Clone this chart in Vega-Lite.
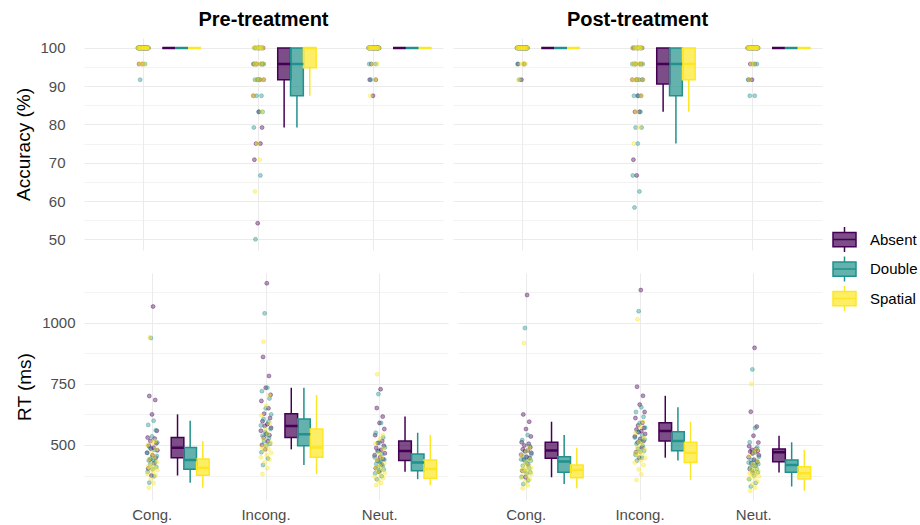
{
"$schema":"https://vega.github.io/schema/vega-lite/v6.json",
"background":"white",
"padding":{"left":14,"top":10,"right":5,"bottom":3},
"config":{
 "view":{"stroke":null},
 "font":"Liberation Sans",
 "range":{"category":["#440154","#21918c","#fde725"]},
 "axis":{"domain":false,"ticks":false,"tickSize":0,"gridColor":"#ebebeb","labelColor":"#4d4d4d","labelFontSize":15,"titleFontSize":19,"titleFontWeight":"normal","titleColor":"#000000","labelOverlap":false},
 "title":{"fontSize":20,"fontWeight":"bold","color":"#000000","offset":8,"anchor":"middle","frame":"group"},
 "legend":{"labelFontSize":15,"labelColor":"#000000","symbolType":"M-0.92,-0.57H0.92V0.57H-0.92Z M-0.92,0H0.92 M0,-0.57V-1 M0,0.57V1","symbolSize":625,"symbolStrokeWidth":1.5,"rowPadding":-1.5,"labelOffset":12}
},
"datasets":{
"obs":[
{"phase":"Pre","cond":"Cong","group":"Absent","id":1,"acc":100,"rt":468},{"phase":"Pre","cond":"Cong","group":"Absent","id":2,"acc":100,"rt":530},{"phase":"Pre","cond":"Cong","group":"Absent","id":3,"acc":95.8,"rt":404},{"phase":"Pre","cond":"Cong","group":"Absent","id":4,"acc":100,"rt":497},{"phase":"Pre","cond":"Cong","group":"Absent","id":5,"acc":100,"rt":700},{"phase":"Pre","cond":"Cong","group":"Absent","id":6,"acc":100,"rt":441},{"phase":"Pre","cond":"Cong","group":"Absent","id":7,"acc":100,"rt":516},{"phase":"Pre","cond":"Cong","group":"Absent","id":8,"acc":100,"rt":485},{"phase":"Pre","cond":"Cong","group":"Absent","id":9,"acc":95.8,"rt":375},{"phase":"Pre","cond":"Cong","group":"Absent","id":10,"acc":100,"rt":625},{"phase":"Pre","cond":"Cong","group":"Absent","id":11,"acc":100,"rt":458},{"phase":"Pre","cond":"Cong","group":"Absent","id":12,"acc":100,"rt":1066},{"phase":"Pre","cond":"Cong","group":"Absent","id":13,"acc":100,"rt":489},{"phase":"Pre","cond":"Cong","group":"Absent","id":14,"acc":100,"rt":425},{"phase":"Pre","cond":"Cong","group":"Absent","id":15,"acc":100,"rt":526},{"phase":"Pre","cond":"Cong","group":"Absent","id":16,"acc":100,"rt":684},{"phase":"Pre","cond":"Cong","group":"Absent","id":17,"acc":100,"rt":448},{"phase":"Pre","cond":"Cong","group":"Absent","id":18,"acc":100,"rt":507},{"phase":"Pre","cond":"Cong","group":"Absent","id":19,"acc":100,"rt":558},{"phase":"Pre","cond":"Cong","group":"Absent","id":20,"acc":100,"rt":478},
{"phase":"Pre","cond":"Cong","group":"Double","id":1,"acc":100,"rt":468},{"phase":"Pre","cond":"Cong","group":"Double","id":2,"acc":100,"rt":390},{"phase":"Pre","cond":"Cong","group":"Double","id":3,"acc":100,"rt":582},{"phase":"Pre","cond":"Cong","group":"Double","id":4,"acc":100,"rt":436},{"phase":"Pre","cond":"Cong","group":"Double","id":5,"acc":91.7,"rt":346},{"phase":"Pre","cond":"Cong","group":"Double","id":6,"acc":100,"rt":490},{"phase":"Pre","cond":"Cong","group":"Double","id":7,"acc":100,"rt":420},{"phase":"Pre","cond":"Cong","group":"Double","id":8,"acc":100,"rt":937},{"phase":"Pre","cond":"Cong","group":"Double","id":9,"acc":100,"rt":445},{"phase":"Pre","cond":"Cong","group":"Double","id":10,"acc":100,"rt":535},{"phase":"Pre","cond":"Cong","group":"Double","id":11,"acc":100,"rt":401},{"phase":"Pre","cond":"Cong","group":"Double","id":12,"acc":100,"rt":439},{"phase":"Pre","cond":"Cong","group":"Double","id":13,"acc":100,"rt":599},{"phase":"Pre","cond":"Cong","group":"Double","id":14,"acc":95.8,"rt":372},{"phase":"Pre","cond":"Cong","group":"Double","id":15,"acc":100,"rt":480},{"phase":"Pre","cond":"Cong","group":"Double","id":16,"acc":100,"rt":430},{"phase":"Pre","cond":"Cong","group":"Double","id":17,"acc":100,"rt":560},{"phase":"Pre","cond":"Cong","group":"Double","id":18,"acc":100,"rt":410},{"phase":"Pre","cond":"Cong","group":"Double","id":19,"acc":100,"rt":455},{"phase":"Pre","cond":"Cong","group":"Double","id":20,"acc":100,"rt":510},
{"phase":"Pre","cond":"Cong","group":"Spatial","id":1,"acc":100,"rt":382},{"phase":"Pre","cond":"Cong","group":"Spatial","id":2,"acc":100,"rt":500},{"phase":"Pre","cond":"Cong","group":"Spatial","id":3,"acc":100,"rt":412},{"phase":"Pre","cond":"Cong","group":"Spatial","id":4,"acc":95.8,"rt":325},{"phase":"Pre","cond":"Cong","group":"Spatial","id":5,"acc":100,"rt":443},{"phase":"Pre","cond":"Cong","group":"Spatial","id":6,"acc":100,"rt":940},{"phase":"Pre","cond":"Cong","group":"Spatial","id":7,"acc":100,"rt":403},{"phase":"Pre","cond":"Cong","group":"Spatial","id":8,"acc":95.8,"rt":362},{"phase":"Pre","cond":"Cong","group":"Spatial","id":9,"acc":100,"rt":468},{"phase":"Pre","cond":"Cong","group":"Spatial","id":10,"acc":100,"rt":420},{"phase":"Pre","cond":"Cong","group":"Spatial","id":11,"acc":100,"rt":510},{"phase":"Pre","cond":"Cong","group":"Spatial","id":12,"acc":100,"rt":390},{"phase":"Pre","cond":"Cong","group":"Spatial","id":13,"acc":95.8,"rt":345},{"phase":"Pre","cond":"Cong","group":"Spatial","id":14,"acc":100,"rt":452},{"phase":"Pre","cond":"Cong","group":"Spatial","id":15,"acc":100,"rt":407},{"phase":"Pre","cond":"Cong","group":"Spatial","id":16,"acc":100,"rt":516},{"phase":"Pre","cond":"Cong","group":"Spatial","id":17,"acc":100,"rt":376},{"phase":"Pre","cond":"Cong","group":"Spatial","id":18,"acc":100,"rt":485},{"phase":"Pre","cond":"Cong","group":"Spatial","id":19,"acc":100,"rt":430},{"phase":"Pre","cond":"Cong","group":"Spatial","id":20,"acc":100,"rt":397},
{"phase":"Pre","cond":"Incong","group":"Absent","id":1,"acc":87.5,"rt":558},{"phase":"Pre","cond":"Incong","group":"Absent","id":2,"acc":95.8,"rt":680},{"phase":"Pre","cond":"Incong","group":"Absent","id":3,"acc":70.8,"rt":500},{"phase":"Pre","cond":"Incong","group":"Absent","id":4,"acc":95.8,"rt":597},{"phase":"Pre","cond":"Incong","group":"Absent","id":5,"acc":100,"rt":860},{"phase":"Pre","cond":"Incong","group":"Absent","id":6,"acc":75,"rt":530},{"phase":"Pre","cond":"Incong","group":"Absent","id":7,"acc":95.8,"rt":628},{"phase":"Pre","cond":"Incong","group":"Absent","id":8,"acc":91.7,"rt":578},{"phase":"Pre","cond":"Incong","group":"Absent","id":9,"acc":54.2,"rt":482},{"phase":"Pre","cond":"Incong","group":"Absent","id":10,"acc":100,"rt":734},{"phase":"Pre","cond":"Incong","group":"Absent","id":11,"acc":83.3,"rt":545},{"phase":"Pre","cond":"Incong","group":"Absent","id":12,"acc":100,"rt":1161},{"phase":"Pre","cond":"Incong","group":"Absent","id":13,"acc":91.7,"rt":585},{"phase":"Pre","cond":"Incong","group":"Absent","id":14,"acc":75,"rt":515},{"phase":"Pre","cond":"Incong","group":"Absent","id":15,"acc":95.8,"rt":650},{"phase":"Pre","cond":"Incong","group":"Absent","id":16,"acc":100,"rt":782},{"phase":"Pre","cond":"Incong","group":"Absent","id":17,"acc":79.2,"rt":540},{"phase":"Pre","cond":"Incong","group":"Absent","id":18,"acc":95.8,"rt":610},{"phase":"Pre","cond":"Incong","group":"Absent","id":19,"acc":100,"rt":705},{"phase":"Pre","cond":"Incong","group":"Absent","id":20,"acc":91.7,"rt":570},
{"phase":"Pre","cond":"Incong","group":"Double","id":1,"acc":95.8,"rt":580},{"phase":"Pre","cond":"Incong","group":"Double","id":2,"acc":79.2,"rt":470},{"phase":"Pre","cond":"Incong","group":"Double","id":3,"acc":100,"rt":720},{"phase":"Pre","cond":"Incong","group":"Double","id":4,"acc":91.7,"rt":538},{"phase":"Pre","cond":"Incong","group":"Double","id":5,"acc":50,"rt":418},{"phase":"Pre","cond":"Incong","group":"Double","id":6,"acc":95.8,"rt":606},{"phase":"Pre","cond":"Incong","group":"Double","id":7,"acc":87.5,"rt":515},{"phase":"Pre","cond":"Incong","group":"Double","id":8,"acc":100,"rt":1038},{"phase":"Pre","cond":"Incong","group":"Double","id":9,"acc":91.7,"rt":552},{"phase":"Pre","cond":"Incong","group":"Double","id":10,"acc":100,"rt":650},{"phase":"Pre","cond":"Incong","group":"Double","id":11,"acc":83.3,"rt":497},{"phase":"Pre","cond":"Incong","group":"Double","id":12,"acc":91.7,"rt":544},{"phase":"Pre","cond":"Incong","group":"Double","id":13,"acc":100,"rt":734},{"phase":"Pre","cond":"Incong","group":"Double","id":14,"acc":66.7,"rt":445},{"phase":"Pre","cond":"Incong","group":"Double","id":15,"acc":95.8,"rt":595},{"phase":"Pre","cond":"Incong","group":"Double","id":16,"acc":87.5,"rt":528},{"phase":"Pre","cond":"Incong","group":"Double","id":17,"acc":100,"rt":690},{"phase":"Pre","cond":"Incong","group":"Double","id":18,"acc":83.3,"rt":505},{"phase":"Pre","cond":"Incong","group":"Double","id":19,"acc":95.8,"rt":565},{"phase":"Pre","cond":"Incong","group":"Double","id":20,"acc":95.8,"rt":625},
{"phase":"Pre","cond":"Incong","group":"Spatial","id":1,"acc":87.5,"rt":450},{"phase":"Pre","cond":"Incong","group":"Spatial","id":2,"acc":100,"rt":620},{"phase":"Pre","cond":"Incong","group":"Spatial","id":3,"acc":95.8,"rt":490},{"phase":"Pre","cond":"Incong","group":"Spatial","id":4,"acc":62.5,"rt":381},{"phase":"Pre","cond":"Incong","group":"Spatial","id":5,"acc":95.8,"rt":525},{"phase":"Pre","cond":"Incong","group":"Spatial","id":6,"acc":100,"rt":922},{"phase":"Pre","cond":"Incong","group":"Spatial","id":7,"acc":91.7,"rt":478},{"phase":"Pre","cond":"Incong","group":"Spatial","id":8,"acc":75,"rt":428},{"phase":"Pre","cond":"Incong","group":"Spatial","id":9,"acc":100,"rt":565},{"phase":"Pre","cond":"Incong","group":"Spatial","id":10,"acc":95.8,"rt":497},{"phase":"Pre","cond":"Incong","group":"Spatial","id":11,"acc":100,"rt":660},{"phase":"Pre","cond":"Incong","group":"Spatial","id":12,"acc":91.7,"rt":458},{"phase":"Pre","cond":"Incong","group":"Spatial","id":13,"acc":70.8,"rt":405},{"phase":"Pre","cond":"Incong","group":"Spatial","id":14,"acc":100,"rt":545},{"phase":"Pre","cond":"Incong","group":"Spatial","id":15,"acc":95.8,"rt":485},{"phase":"Pre","cond":"Incong","group":"Spatial","id":16,"acc":100,"rt":704},{"phase":"Pre","cond":"Incong","group":"Spatial","id":17,"acc":83.3,"rt":440},{"phase":"Pre","cond":"Incong","group":"Spatial","id":18,"acc":100,"rt":590},{"phase":"Pre","cond":"Incong","group":"Spatial","id":19,"acc":95.8,"rt":510},{"phase":"Pre","cond":"Incong","group":"Spatial","id":20,"acc":91.7,"rt":468},
{"phase":"Pre","cond":"Neut","group":"Absent","id":1,"acc":100,"rt":458},{"phase":"Pre","cond":"Neut","group":"Absent","id":2,"acc":100,"rt":540},{"phase":"Pre","cond":"Neut","group":"Absent","id":3,"acc":91.7,"rt":405},{"phase":"Pre","cond":"Neut","group":"Absent","id":4,"acc":100,"rt":488},{"phase":"Pre","cond":"Neut","group":"Absent","id":5,"acc":100,"rt":651},{"phase":"Pre","cond":"Neut","group":"Absent","id":6,"acc":95.8,"rt":436},{"phase":"Pre","cond":"Neut","group":"Absent","id":7,"acc":100,"rt":508},{"phase":"Pre","cond":"Neut","group":"Absent","id":8,"acc":100,"rt":475},{"phase":"Pre","cond":"Neut","group":"Absent","id":9,"acc":87.5,"rt":391},{"phase":"Pre","cond":"Neut","group":"Absent","id":10,"acc":100,"rt":590},{"phase":"Pre","cond":"Neut","group":"Absent","id":11,"acc":100,"rt":450},{"phase":"Pre","cond":"Neut","group":"Absent","id":12,"acc":100,"rt":728},{"phase":"Pre","cond":"Neut","group":"Absent","id":13,"acc":100,"rt":480},{"phase":"Pre","cond":"Neut","group":"Absent","id":14,"acc":91.7,"rt":420},{"phase":"Pre","cond":"Neut","group":"Absent","id":15,"acc":100,"rt":516},{"phase":"Pre","cond":"Neut","group":"Absent","id":16,"acc":100,"rt":616},{"phase":"Pre","cond":"Neut","group":"Absent","id":17,"acc":100,"rt":442},{"phase":"Pre","cond":"Neut","group":"Absent","id":18,"acc":100,"rt":497},{"phase":"Pre","cond":"Neut","group":"Absent","id":19,"acc":100,"rt":565},{"phase":"Pre","cond":"Neut","group":"Absent","id":20,"acc":100,"rt":466},
{"phase":"Pre","cond":"Neut","group":"Double","id":1,"acc":100,"rt":450},{"phase":"Pre","cond":"Neut","group":"Double","id":2,"acc":95.8,"rt":384},{"phase":"Pre","cond":"Neut","group":"Double","id":3,"acc":100,"rt":550},{"phase":"Pre","cond":"Neut","group":"Double","id":4,"acc":100,"rt":422},{"phase":"Pre","cond":"Neut","group":"Double","id":5,"acc":91.7,"rt":360},{"phase":"Pre","cond":"Neut","group":"Double","id":6,"acc":100,"rt":475},{"phase":"Pre","cond":"Neut","group":"Double","id":7,"acc":100,"rt":408},{"phase":"Pre","cond":"Neut","group":"Double","id":8,"acc":100,"rt":708},{"phase":"Pre","cond":"Neut","group":"Double","id":9,"acc":100,"rt":433},{"phase":"Pre","cond":"Neut","group":"Double","id":10,"acc":100,"rt":510},{"phase":"Pre","cond":"Neut","group":"Double","id":11,"acc":100,"rt":395},{"phase":"Pre","cond":"Neut","group":"Double","id":12,"acc":100,"rt":428},{"phase":"Pre","cond":"Neut","group":"Double","id":13,"acc":100,"rt":590},{"phase":"Pre","cond":"Neut","group":"Double","id":14,"acc":95.8,"rt":372},{"phase":"Pre","cond":"Neut","group":"Double","id":15,"acc":100,"rt":463},{"phase":"Pre","cond":"Neut","group":"Double","id":16,"acc":100,"rt":415},{"phase":"Pre","cond":"Neut","group":"Double","id":17,"acc":100,"rt":530},{"phase":"Pre","cond":"Neut","group":"Double","id":18,"acc":100,"rt":400},{"phase":"Pre","cond":"Neut","group":"Double","id":19,"acc":100,"rt":440},{"phase":"Pre","cond":"Neut","group":"Double","id":20,"acc":100,"rt":490},
{"phase":"Pre","cond":"Neut","group":"Spatial","id":1,"acc":100,"rt":370},{"phase":"Pre","cond":"Neut","group":"Spatial","id":2,"acc":100,"rt":505},{"phase":"Pre","cond":"Neut","group":"Spatial","id":3,"acc":100,"rt":408},{"phase":"Pre","cond":"Neut","group":"Spatial","id":4,"acc":87.5,"rt":336},{"phase":"Pre","cond":"Neut","group":"Spatial","id":5,"acc":100,"rt":439},{"phase":"Pre","cond":"Neut","group":"Spatial","id":6,"acc":100,"rt":789},{"phase":"Pre","cond":"Neut","group":"Spatial","id":7,"acc":100,"rt":394},{"phase":"Pre","cond":"Neut","group":"Spatial","id":8,"acc":95.8,"rt":355},{"phase":"Pre","cond":"Neut","group":"Spatial","id":9,"acc":100,"rt":465},{"phase":"Pre","cond":"Neut","group":"Spatial","id":10,"acc":100,"rt":415},{"phase":"Pre","cond":"Neut","group":"Spatial","id":11,"acc":100,"rt":525},{"phase":"Pre","cond":"Neut","group":"Spatial","id":12,"acc":100,"rt":378},{"phase":"Pre","cond":"Neut","group":"Spatial","id":13,"acc":91.7,"rt":345},{"phase":"Pre","cond":"Neut","group":"Spatial","id":14,"acc":100,"rt":450},{"phase":"Pre","cond":"Neut","group":"Spatial","id":15,"acc":100,"rt":402},{"phase":"Pre","cond":"Neut","group":"Spatial","id":16,"acc":100,"rt":541},{"phase":"Pre","cond":"Neut","group":"Spatial","id":17,"acc":95.8,"rt":364},{"phase":"Pre","cond":"Neut","group":"Spatial","id":18,"acc":100,"rt":485},{"phase":"Pre","cond":"Neut","group":"Spatial","id":19,"acc":100,"rt":425},{"phase":"Pre","cond":"Neut","group":"Spatial","id":20,"acc":100,"rt":386},
{"phase":"Post","cond":"Cong","group":"Absent","id":1,"acc":100,"rt":460},{"phase":"Post","cond":"Cong","group":"Absent","id":2,"acc":100,"rt":511},{"phase":"Post","cond":"Cong","group":"Absent","id":3,"acc":95.8,"rt":395},{"phase":"Post","cond":"Cong","group":"Absent","id":4,"acc":100,"rt":482},{"phase":"Post","cond":"Cong","group":"Absent","id":5,"acc":100,"rt":625},{"phase":"Post","cond":"Cong","group":"Absent","id":6,"acc":100,"rt":440},{"phase":"Post","cond":"Cong","group":"Absent","id":7,"acc":100,"rt":498},{"phase":"Post","cond":"Cong","group":"Absent","id":8,"acc":100,"rt":474},{"phase":"Post","cond":"Cong","group":"Absent","id":9,"acc":91.7,"rt":368},{"phase":"Post","cond":"Cong","group":"Absent","id":10,"acc":100,"rt":565},{"phase":"Post","cond":"Cong","group":"Absent","id":11,"acc":100,"rt":452},{"phase":"Post","cond":"Cong","group":"Absent","id":12,"acc":100,"rt":1113},{"phase":"Post","cond":"Cong","group":"Absent","id":13,"acc":100,"rt":477},{"phase":"Post","cond":"Cong","group":"Absent","id":14,"acc":95.8,"rt":420},{"phase":"Post","cond":"Cong","group":"Absent","id":15,"acc":100,"rt":505},{"phase":"Post","cond":"Cong","group":"Absent","id":16,"acc":100,"rt":595},{"phase":"Post","cond":"Cong","group":"Absent","id":17,"acc":100,"rt":446},{"phase":"Post","cond":"Cong","group":"Absent","id":18,"acc":100,"rt":490},{"phase":"Post","cond":"Cong","group":"Absent","id":19,"acc":100,"rt":535},{"phase":"Post","cond":"Cong","group":"Absent","id":20,"acc":100,"rt":468},
{"phase":"Post","cond":"Cong","group":"Double","id":1,"acc":100,"rt":441},{"phase":"Post","cond":"Cong","group":"Double","id":2,"acc":95.8,"rt":370},{"phase":"Post","cond":"Cong","group":"Double","id":3,"acc":100,"rt":520},{"phase":"Post","cond":"Cong","group":"Double","id":4,"acc":100,"rt":415},{"phase":"Post","cond":"Cong","group":"Double","id":5,"acc":91.7,"rt":340},{"phase":"Post","cond":"Cong","group":"Double","id":6,"acc":100,"rt":452},{"phase":"Post","cond":"Cong","group":"Double","id":7,"acc":100,"rt":395},{"phase":"Post","cond":"Cong","group":"Double","id":8,"acc":100,"rt":978},{"phase":"Post","cond":"Cong","group":"Double","id":9,"acc":100,"rt":432},{"phase":"Post","cond":"Cong","group":"Double","id":10,"acc":100,"rt":475},{"phase":"Post","cond":"Cong","group":"Double","id":11,"acc":100,"rt":383},{"phase":"Post","cond":"Cong","group":"Double","id":12,"acc":100,"rt":425},{"phase":"Post","cond":"Cong","group":"Double","id":13,"acc":100,"rt":541},{"phase":"Post","cond":"Cong","group":"Double","id":14,"acc":95.8,"rt":355},{"phase":"Post","cond":"Cong","group":"Double","id":15,"acc":100,"rt":446},{"phase":"Post","cond":"Cong","group":"Double","id":16,"acc":100,"rt":405},{"phase":"Post","cond":"Cong","group":"Double","id":17,"acc":100,"rt":495},{"phase":"Post","cond":"Cong","group":"Double","id":18,"acc":100,"rt":388},{"phase":"Post","cond":"Cong","group":"Double","id":19,"acc":100,"rt":436},{"phase":"Post","cond":"Cong","group":"Double","id":20,"acc":100,"rt":462},
{"phase":"Post","cond":"Cong","group":"Spatial","id":1,"acc":100,"rt":366},{"phase":"Post","cond":"Cong","group":"Spatial","id":2,"acc":100,"rt":458},{"phase":"Post","cond":"Cong","group":"Spatial","id":3,"acc":100,"rt":398},{"phase":"Post","cond":"Cong","group":"Spatial","id":4,"acc":91.7,"rt":323},{"phase":"Post","cond":"Cong","group":"Spatial","id":5,"acc":100,"rt":412},{"phase":"Post","cond":"Cong","group":"Spatial","id":6,"acc":100,"rt":917},{"phase":"Post","cond":"Cong","group":"Spatial","id":7,"acc":100,"rt":388},{"phase":"Post","cond":"Cong","group":"Spatial","id":8,"acc":95.8,"rt":348},{"phase":"Post","cond":"Cong","group":"Spatial","id":9,"acc":100,"rt":428},{"phase":"Post","cond":"Cong","group":"Spatial","id":10,"acc":100,"rt":402},{"phase":"Post","cond":"Cong","group":"Spatial","id":11,"acc":100,"rt":475},{"phase":"Post","cond":"Cong","group":"Spatial","id":12,"acc":100,"rt":372},{"phase":"Post","cond":"Cong","group":"Spatial","id":13,"acc":95.8,"rt":335},{"phase":"Post","cond":"Cong","group":"Spatial","id":14,"acc":100,"rt":418},{"phase":"Post","cond":"Cong","group":"Spatial","id":15,"acc":100,"rt":394},{"phase":"Post","cond":"Cong","group":"Spatial","id":16,"acc":100,"rt":489},{"phase":"Post","cond":"Cong","group":"Spatial","id":17,"acc":95.8,"rt":360},{"phase":"Post","cond":"Cong","group":"Spatial","id":18,"acc":100,"rt":440},{"phase":"Post","cond":"Cong","group":"Spatial","id":19,"acc":100,"rt":407},{"phase":"Post","cond":"Cong","group":"Spatial","id":20,"acc":100,"rt":380},
{"phase":"Post","cond":"Incong","group":"Absent","id":1,"acc":91.7,"rt":535},{"phase":"Post","cond":"Incong","group":"Absent","id":2,"acc":100,"rt":610},{"phase":"Post","cond":"Incong","group":"Absent","id":3,"acc":70.8,"rt":470},{"phase":"Post","cond":"Incong","group":"Absent","id":4,"acc":95.8,"rt":563},{"phase":"Post","cond":"Incong","group":"Absent","id":5,"acc":100,"rt":738},{"phase":"Post","cond":"Incong","group":"Absent","id":6,"acc":83.3,"rt":510},{"phase":"Post","cond":"Incong","group":"Absent","id":7,"acc":95.8,"rt":580},{"phase":"Post","cond":"Incong","group":"Absent","id":8,"acc":91.7,"rt":552},{"phase":"Post","cond":"Incong","group":"Absent","id":9,"acc":66.7,"rt":448},{"phase":"Post","cond":"Incong","group":"Absent","id":10,"acc":100,"rt":665},{"phase":"Post","cond":"Incong","group":"Absent","id":11,"acc":87.5,"rt":525},{"phase":"Post","cond":"Incong","group":"Absent","id":12,"acc":100,"rt":1133},{"phase":"Post","cond":"Incong","group":"Absent","id":13,"acc":91.7,"rt":557},{"phase":"Post","cond":"Incong","group":"Absent","id":14,"acc":83.3,"rt":490},{"phase":"Post","cond":"Incong","group":"Absent","id":15,"acc":95.8,"rt":591},{"phase":"Post","cond":"Incong","group":"Absent","id":16,"acc":100,"rt":701},{"phase":"Post","cond":"Incong","group":"Absent","id":17,"acc":87.5,"rt":516},{"phase":"Post","cond":"Incong","group":"Absent","id":18,"acc":95.8,"rt":570},{"phase":"Post","cond":"Incong","group":"Absent","id":19,"acc":100,"rt":635},{"phase":"Post","cond":"Incong","group":"Absent","id":20,"acc":91.7,"rt":545},
{"phase":"Post","cond":"Incong","group":"Double","id":1,"acc":95.8,"rt":530},{"phase":"Post","cond":"Incong","group":"Double","id":2,"acc":66.7,"rt":460},{"phase":"Post","cond":"Incong","group":"Double","id":3,"acc":100,"rt":635},{"phase":"Post","cond":"Incong","group":"Double","id":4,"acc":87.5,"rt":505},{"phase":"Post","cond":"Incong","group":"Double","id":5,"acc":58.3,"rt":436},{"phase":"Post","cond":"Incong","group":"Double","id":6,"acc":95.8,"rt":554},{"phase":"Post","cond":"Incong","group":"Double","id":7,"acc":79.2,"rt":485},{"phase":"Post","cond":"Incong","group":"Double","id":8,"acc":100,"rt":1047},{"phase":"Post","cond":"Incong","group":"Double","id":9,"acc":91.7,"rt":516},{"phase":"Post","cond":"Incong","group":"Double","id":10,"acc":100,"rt":590},{"phase":"Post","cond":"Incong","group":"Double","id":11,"acc":75,"rt":472},{"phase":"Post","cond":"Incong","group":"Double","id":12,"acc":87.5,"rt":512},{"phase":"Post","cond":"Incong","group":"Double","id":13,"acc":100,"rt":654},{"phase":"Post","cond":"Incong","group":"Double","id":14,"acc":62.5,"rt":448},{"phase":"Post","cond":"Incong","group":"Double","id":15,"acc":95.8,"rt":540},{"phase":"Post","cond":"Incong","group":"Double","id":16,"acc":83.3,"rt":495},{"phase":"Post","cond":"Incong","group":"Double","id":17,"acc":100,"rt":615},{"phase":"Post","cond":"Incong","group":"Double","id":18,"acc":79.2,"rt":476},{"phase":"Post","cond":"Incong","group":"Double","id":19,"acc":91.7,"rt":522},{"phase":"Post","cond":"Incong","group":"Double","id":20,"acc":95.8,"rt":570},
{"phase":"Post","cond":"Incong","group":"Spatial","id":1,"acc":91.7,"rt":428},{"phase":"Post","cond":"Incong","group":"Spatial","id":2,"acc":100,"rt":550},{"phase":"Post","cond":"Incong","group":"Spatial","id":3,"acc":95.8,"rt":468},{"phase":"Post","cond":"Incong","group":"Spatial","id":4,"acc":75,"rt":357},{"phase":"Post","cond":"Incong","group":"Spatial","id":5,"acc":95.8,"rt":492},{"phase":"Post","cond":"Incong","group":"Spatial","id":6,"acc":100,"rt":1014},{"phase":"Post","cond":"Incong","group":"Spatial","id":7,"acc":91.7,"rt":455},{"phase":"Post","cond":"Incong","group":"Spatial","id":8,"acc":83.3,"rt":400},{"phase":"Post","cond":"Incong","group":"Spatial","id":9,"acc":100,"rt":511},{"phase":"Post","cond":"Incong","group":"Spatial","id":10,"acc":95.8,"rt":474},{"phase":"Post","cond":"Incong","group":"Spatial","id":11,"acc":100,"rt":575},{"phase":"Post","cond":"Incong","group":"Spatial","id":12,"acc":91.7,"rt":436},{"phase":"Post","cond":"Incong","group":"Spatial","id":13,"acc":79.2,"rt":380},{"phase":"Post","cond":"Incong","group":"Spatial","id":14,"acc":100,"rt":503},{"phase":"Post","cond":"Incong","group":"Spatial","id":15,"acc":95.8,"rt":463},{"phase":"Post","cond":"Incong","group":"Spatial","id":16,"acc":100,"rt":595},{"phase":"Post","cond":"Incong","group":"Spatial","id":17,"acc":87.5,"rt":418},{"phase":"Post","cond":"Incong","group":"Spatial","id":18,"acc":100,"rt":528},{"phase":"Post","cond":"Incong","group":"Spatial","id":19,"acc":95.8,"rt":482},{"phase":"Post","cond":"Incong","group":"Spatial","id":20,"acc":91.7,"rt":446},
{"phase":"Post","cond":"Neut","group":"Absent","id":1,"acc":100,"rt":450},{"phase":"Post","cond":"Neut","group":"Absent","id":2,"acc":100,"rt":495},{"phase":"Post","cond":"Neut","group":"Absent","id":3,"acc":91.7,"rt":402},{"phase":"Post","cond":"Neut","group":"Absent","id":4,"acc":100,"rt":473},{"phase":"Post","cond":"Neut","group":"Absent","id":5,"acc":100,"rt":636},{"phase":"Post","cond":"Neut","group":"Absent","id":6,"acc":95.8,"rt":425},{"phase":"Post","cond":"Neut","group":"Absent","id":7,"acc":100,"rt":480},{"phase":"Post","cond":"Neut","group":"Absent","id":8,"acc":100,"rt":465},{"phase":"Post","cond":"Neut","group":"Absent","id":9,"acc":91.7,"rt":387},{"phase":"Post","cond":"Neut","group":"Absent","id":10,"acc":100,"rt":538},{"phase":"Post","cond":"Neut","group":"Absent","id":11,"acc":100,"rt":440},{"phase":"Post","cond":"Neut","group":"Absent","id":12,"acc":100,"rt":897},{"phase":"Post","cond":"Neut","group":"Absent","id":13,"acc":100,"rt":470},{"phase":"Post","cond":"Neut","group":"Absent","id":14,"acc":95.8,"rt":415},{"phase":"Post","cond":"Neut","group":"Absent","id":15,"acc":100,"rt":484},{"phase":"Post","cond":"Neut","group":"Absent","id":16,"acc":100,"rt":575},{"phase":"Post","cond":"Neut","group":"Absent","id":17,"acc":100,"rt":431},{"phase":"Post","cond":"Neut","group":"Absent","id":18,"acc":100,"rt":476},{"phase":"Post","cond":"Neut","group":"Absent","id":19,"acc":100,"rt":510},{"phase":"Post","cond":"Neut","group":"Absent","id":20,"acc":100,"rt":458},
{"phase":"Post","cond":"Neut","group":"Double","id":1,"acc":100,"rt":428},{"phase":"Post","cond":"Neut","group":"Double","id":2,"acc":91.7,"rt":360},{"phase":"Post","cond":"Neut","group":"Double","id":3,"acc":100,"rt":511},{"phase":"Post","cond":"Neut","group":"Double","id":4,"acc":100,"rt":408},{"phase":"Post","cond":"Neut","group":"Double","id":5,"acc":87.5,"rt":330},{"phase":"Post","cond":"Neut","group":"Double","id":6,"acc":100,"rt":439},{"phase":"Post","cond":"Neut","group":"Double","id":7,"acc":100,"rt":395},{"phase":"Post","cond":"Neut","group":"Double","id":8,"acc":100,"rt":809},{"phase":"Post","cond":"Neut","group":"Double","id":9,"acc":100,"rt":418},{"phase":"Post","cond":"Neut","group":"Double","id":10,"acc":100,"rt":470},{"phase":"Post","cond":"Neut","group":"Double","id":11,"acc":95.8,"rt":375},{"phase":"Post","cond":"Neut","group":"Double","id":12,"acc":100,"rt":414},{"phase":"Post","cond":"Neut","group":"Double","id":13,"acc":100,"rt":569},{"phase":"Post","cond":"Neut","group":"Double","id":14,"acc":87.5,"rt":345},{"phase":"Post","cond":"Neut","group":"Double","id":15,"acc":100,"rt":434},{"phase":"Post","cond":"Neut","group":"Double","id":16,"acc":100,"rt":402},{"phase":"Post","cond":"Neut","group":"Double","id":17,"acc":100,"rt":490},{"phase":"Post","cond":"Neut","group":"Double","id":18,"acc":95.8,"rt":388},{"phase":"Post","cond":"Neut","group":"Double","id":19,"acc":100,"rt":422},{"phase":"Post","cond":"Neut","group":"Double","id":20,"acc":100,"rt":452},
{"phase":"Post","cond":"Neut","group":"Spatial","id":1,"acc":100,"rt":361},{"phase":"Post","cond":"Neut","group":"Spatial","id":2,"acc":100,"rt":455},{"phase":"Post","cond":"Neut","group":"Spatial","id":3,"acc":100,"rt":384},{"phase":"Post","cond":"Neut","group":"Spatial","id":4,"acc":91.7,"rt":313},{"phase":"Post","cond":"Neut","group":"Spatial","id":5,"acc":100,"rt":402},{"phase":"Post","cond":"Neut","group":"Spatial","id":6,"acc":100,"rt":749},{"phase":"Post","cond":"Neut","group":"Spatial","id":7,"acc":100,"rt":377},{"phase":"Post","cond":"Neut","group":"Spatial","id":8,"acc":95.8,"rt":338},{"phase":"Post","cond":"Neut","group":"Spatial","id":9,"acc":100,"rt":420},{"phase":"Post","cond":"Neut","group":"Spatial","id":10,"acc":100,"rt":388},{"phase":"Post","cond":"Neut","group":"Spatial","id":11,"acc":100,"rt":470},{"phase":"Post","cond":"Neut","group":"Spatial","id":12,"acc":100,"rt":366},{"phase":"Post","cond":"Neut","group":"Spatial","id":13,"acc":95.8,"rt":325},{"phase":"Post","cond":"Neut","group":"Spatial","id":14,"acc":100,"rt":411},{"phase":"Post","cond":"Neut","group":"Spatial","id":15,"acc":100,"rt":381},{"phase":"Post","cond":"Neut","group":"Spatial","id":16,"acc":100,"rt":480},{"phase":"Post","cond":"Neut","group":"Spatial","id":17,"acc":100,"rt":350},{"phase":"Post","cond":"Neut","group":"Spatial","id":18,"acc":100,"rt":435},{"phase":"Post","cond":"Neut","group":"Spatial","id":19,"acc":100,"rt":394},{"phase":"Post","cond":"Neut","group":"Spatial","id":20,"acc":100,"rt":372}
],
"accBox":[
{"phase":"Pre","cond":"Cong","group":"Absent","lower":100,"q1":100,"median":100,"q3":100,"upper":100},
{"phase":"Pre","cond":"Cong","group":"Double","lower":100,"q1":100,"median":100,"q3":100,"upper":100},
{"phase":"Pre","cond":"Cong","group":"Spatial","lower":100,"q1":100,"median":100,"q3":100,"upper":100},
{"phase":"Pre","cond":"Incong","group":"Absent","lower":79.2,"q1":91.7,"median":95.8,"q3":100,"upper":100},
{"phase":"Pre","cond":"Incong","group":"Double","lower":79.2,"q1":87.5,"median":95.8,"q3":100,"upper":100},
{"phase":"Pre","cond":"Incong","group":"Spatial","lower":87.5,"q1":94.8,"median":100,"q3":100,"upper":100},
{"phase":"Pre","cond":"Neut","group":"Absent","lower":100,"q1":100,"median":100,"q3":100,"upper":100},
{"phase":"Pre","cond":"Neut","group":"Double","lower":100,"q1":100,"median":100,"q3":100,"upper":100},
{"phase":"Pre","cond":"Neut","group":"Spatial","lower":100,"q1":100,"median":100,"q3":100,"upper":100},
{"phase":"Post","cond":"Cong","group":"Absent","lower":100,"q1":100,"median":100,"q3":100,"upper":100},
{"phase":"Post","cond":"Cong","group":"Double","lower":100,"q1":100,"median":100,"q3":100,"upper":100},
{"phase":"Post","cond":"Cong","group":"Spatial","lower":100,"q1":100,"median":100,"q3":100,"upper":100},
{"phase":"Post","cond":"Incong","group":"Absent","lower":83.3,"q1":90.6,"median":95.8,"q3":100,"upper":100},
{"phase":"Post","cond":"Incong","group":"Double","lower":75,"q1":87.5,"median":95.8,"q3":100,"upper":100},
{"phase":"Post","cond":"Incong","group":"Spatial","lower":83.3,"q1":91.7,"median":95.8,"q3":100,"upper":100},
{"phase":"Post","cond":"Neut","group":"Absent","lower":100,"q1":100,"median":100,"q3":100,"upper":100},
{"phase":"Post","cond":"Neut","group":"Double","lower":100,"q1":100,"median":100,"q3":100,"upper":100},
{"phase":"Post","cond":"Neut","group":"Spatial","lower":100,"q1":100,"median":100,"q3":100,"upper":100}
],
"rtBox":[
{"phase":"Pre","cond":"Cong","group":"Absent","lower":375,"q1":448,"median":489,"q3":530,"upper":625},
{"phase":"Pre","cond":"Cong","group":"Double","lower":346,"q1":401,"median":439,"q3":490,"upper":599},
{"phase":"Pre","cond":"Cong","group":"Spatial","lower":325,"q1":376,"median":407,"q3":443,"upper":516},
{"phase":"Pre","cond":"Incong","group":"Absent","lower":482,"q1":530,"median":578,"q3":628,"upper":734},
{"phase":"Pre","cond":"Incong","group":"Double","lower":418,"q1":497,"median":544,"q3":606,"upper":734},
{"phase":"Pre","cond":"Incong","group":"Spatial","lower":381,"q1":450,"median":490,"q3":565,"upper":704},
{"phase":"Pre","cond":"Neut","group":"Absent","lower":391,"q1":436,"median":475,"q3":516,"upper":616},
{"phase":"Pre","cond":"Neut","group":"Double","lower":360,"q1":395,"median":428,"q3":463,"upper":550},
{"phase":"Pre","cond":"Neut","group":"Spatial","lower":336,"q1":364,"median":402,"q3":439,"upper":541},
{"phase":"Post","cond":"Cong","group":"Absent","lower":368,"q1":446,"median":477,"q3":511,"upper":595},
{"phase":"Post","cond":"Cong","group":"Double","lower":340,"q1":388,"median":432,"q3":452,"upper":541},
{"phase":"Post","cond":"Cong","group":"Spatial","lower":323,"q1":366,"median":398,"q3":418,"upper":489},
{"phase":"Post","cond":"Incong","group":"Absent","lower":448,"q1":516,"median":557,"q3":591,"upper":701},
{"phase":"Post","cond":"Incong","group":"Double","lower":436,"q1":476,"median":516,"q3":554,"upper":654},
{"phase":"Post","cond":"Incong","group":"Spatial","lower":357,"q1":428,"median":468,"q3":511,"upper":595},
{"phase":"Post","cond":"Neut","group":"Absent","lower":387,"q1":431,"median":470,"q3":484,"upper":538},
{"phase":"Post","cond":"Neut","group":"Double","lower":330,"q1":388,"median":418,"q3":439,"upper":511},
{"phase":"Post","cond":"Neut","group":"Spatial","lower":313,"q1":361,"median":384,"q3":411,"upper":480}
]
},
"columns":1,
"align":"none",
"spacing":23,
"concat":[
{"spacing":10,"hconcat":[
 {"width":359,"height":212,"title":{"text":"Pre-treatment"},
  "encoding":{"x":{"field":"cond","type":"nominal","title":null,"scale":{"domain":["Cong","Incong","Neut"],"paddingInner":0,"paddingOuter":0.0566,"align":0.117},"axis":{"labels":false,"grid":true,"bandPosition":0.5}}},
  "layer":[
   {"data":{"name":"obs"},"transform":[{"filter":"datum.phase === 'Pre'"}],"mark":{"type":"circle","size":16,"fillOpacity":0.4,"strokeOpacity":0.6,"strokeWidth":0.6},
    "encoding":{"xOffset":{"field":"id","type":"quantitative","scale":{"domain":[-95,116],"zero":false,"nice":false}},
     "y":{"field":"acc","type":"quantitative","title":"Accuracy (%)","scale":{"domain":[47.2,102.6],"zero":false,"nice":false},"axis":{"values":[50,55,60,65,70,75,80,85,90,95,100],"tickCount":40,"labelExpr":"datum.value % 10 === 0 ? datum.label : ''","gridWidth":{"condition":{"test":"datum.value % 10 !== 0","value":0.6},"value":1.2},"labelPadding":19,"titlePadding":6}},
     "color":{"field":"group","type":"nominal","legend":{"title":null,"orient":"none","legendX":747,"legendY":188,"encode":{"symbols":{"update":{"fill":{"scale":"color","field":"value"},"fillOpacity":{"value":0.7},"stroke":{"scale":"color","field":"value"},"strokeWidth":{"value":1.5},"opacity":{"value":1}}}}}},
     "stroke":{"field":"group","type":"nominal","legend":null}}},
   {"data":{"name":"accBox"},"transform":[{"filter":"datum.phase === 'Pre'"}],"mark":{"type":"rule","strokeWidth":1.5},
    "encoding":{"xOffset":{"field":"group","type":"nominal","scale":{"domain":["s0","s1","s2","s3","s4","s5","Absent","Double","Spatial"],"paddingInner":0,"paddingOuter":-0.75}},
     "y":{"field":"lower","type":"quantitative","title":"Accuracy (%)","scale":{"domain":[47.2,102.6],"zero":false,"nice":false}},"y2":{"field":"q1"},"color":{"field":"group","type":"nominal"}}},
   {"data":{"name":"accBox"},"transform":[{"filter":"datum.phase === 'Pre'"}],"mark":{"type":"rule","strokeWidth":1.5},
    "encoding":{"xOffset":{"field":"group","type":"nominal","scale":{"domain":["s0","s1","s2","s3","s4","s5","Absent","Double","Spatial"],"paddingInner":0,"paddingOuter":-0.75}},
     "y":{"field":"q3","type":"quantitative","title":"Accuracy (%)","scale":{"domain":[47.2,102.6],"zero":false,"nice":false}},"y2":{"field":"upper"},"color":{"field":"group","type":"nominal"}}},
   {"data":{"name":"accBox"},"transform":[{"filter":"datum.phase === 'Pre'"}],"mark":{"type":"bar","fillOpacity":0.7},
    "encoding":{"xOffset":{"field":"group","type":"nominal","scale":{"domain":["s0","s1","s2","s3","s4","s5","Absent","Double","Spatial"],"paddingInner":0,"paddingOuter":-0.75}},
     "y":{"field":"q1","type":"quantitative","title":"Accuracy (%)","scale":{"domain":[47.2,102.6],"zero":false,"nice":false}},"y2":{"field":"q3"},"color":{"field":"group","type":"nominal"}}},
   {"data":{"name":"accBox"},"transform":[{"filter":"datum.phase === 'Pre'"}],"mark":{"type":"bar","filled":false,"strokeWidth":1.5},
    "encoding":{"xOffset":{"field":"group","type":"nominal","scale":{"domain":["s0","s1","s2","s3","s4","s5","Absent","Double","Spatial"],"paddingInner":0,"paddingOuter":-0.75}},
     "y":{"field":"q1","type":"quantitative","title":"Accuracy (%)","scale":{"domain":[47.2,102.6],"zero":false,"nice":false}},"y2":{"field":"q3"},"color":{"field":"group","type":"nominal"}}},
   {"data":{"name":"accBox"},"transform":[{"filter":"datum.phase === 'Pre'"}],"mark":{"type":"bar","filled":false,"strokeWidth":2.5},
    "encoding":{"xOffset":{"field":"group","type":"nominal","scale":{"domain":["s0","s1","s2","s3","s4","s5","Absent","Double","Spatial"],"paddingInner":0,"paddingOuter":-0.75}},
     "y":{"field":"median","type":"quantitative","title":"Accuracy (%)","scale":{"domain":[47.2,102.6],"zero":false,"nice":false}},"y2":{"field":"median"},"color":{"field":"group","type":"nominal"}}}
  ],
  "resolve":{"scale":{"xOffset":"independent"}}},
 {"width":369,"height":212,"title":{"text":"Post-treatment"},
  "encoding":{"x":{"field":"cond","type":"nominal","title":null,"scale":{"domain":["Cong","Incong","Neut"],"paddingInner":0,"paddingOuter":0.1},"axis":{"labels":false,"grid":true,"bandPosition":0.5}}},
  "layer":[
   {"data":{"name":"obs"},"transform":[{"filter":"datum.phase === 'Post'"}],"mark":{"type":"circle","size":16,"fillOpacity":0.4,"strokeOpacity":0.6,"strokeWidth":0.6},
    "encoding":{"xOffset":{"field":"id","type":"quantitative","scale":{"domain":[-95,116],"zero":false,"nice":false}},
     "y":{"field":"acc","type":"quantitative","title":"Accuracy (%)","scale":{"domain":[47.2,102.6],"zero":false,"nice":false},"axis":{"values":[50,55,60,65,70,75,80,85,90,95,100],"tickCount":40,"labels":false,"title":null,"gridWidth":{"condition":{"test":"datum.value % 10 !== 0","value":0.6},"value":1.2}}},
     "color":{"field":"group","type":"nominal"},
     "stroke":{"field":"group","type":"nominal","legend":null}}},
   {"data":{"name":"accBox"},"transform":[{"filter":"datum.phase === 'Post'"}],"mark":{"type":"rule","strokeWidth":1.5},
    "encoding":{"xOffset":{"field":"group","type":"nominal","scale":{"domain":["s0","s1","s2","s3","s4","s5","Absent","Double","Spatial"],"paddingInner":0,"paddingOuter":-0.75}},
     "y":{"field":"lower","type":"quantitative","title":"Accuracy (%)","scale":{"domain":[47.2,102.6],"zero":false,"nice":false}},"y2":{"field":"q1"},"color":{"field":"group","type":"nominal"}}},
   {"data":{"name":"accBox"},"transform":[{"filter":"datum.phase === 'Post'"}],"mark":{"type":"rule","strokeWidth":1.5},
    "encoding":{"xOffset":{"field":"group","type":"nominal","scale":{"domain":["s0","s1","s2","s3","s4","s5","Absent","Double","Spatial"],"paddingInner":0,"paddingOuter":-0.75}},
     "y":{"field":"q3","type":"quantitative","title":"Accuracy (%)","scale":{"domain":[47.2,102.6],"zero":false,"nice":false}},"y2":{"field":"upper"},"color":{"field":"group","type":"nominal"}}},
   {"data":{"name":"accBox"},"transform":[{"filter":"datum.phase === 'Post'"}],"mark":{"type":"bar","fillOpacity":0.7},
    "encoding":{"xOffset":{"field":"group","type":"nominal","scale":{"domain":["s0","s1","s2","s3","s4","s5","Absent","Double","Spatial"],"paddingInner":0,"paddingOuter":-0.75}},
     "y":{"field":"q1","type":"quantitative","title":"Accuracy (%)","scale":{"domain":[47.2,102.6],"zero":false,"nice":false}},"y2":{"field":"q3"},"color":{"field":"group","type":"nominal"}}},
   {"data":{"name":"accBox"},"transform":[{"filter":"datum.phase === 'Post'"}],"mark":{"type":"bar","filled":false,"strokeWidth":1.5},
    "encoding":{"xOffset":{"field":"group","type":"nominal","scale":{"domain":["s0","s1","s2","s3","s4","s5","Absent","Double","Spatial"],"paddingInner":0,"paddingOuter":-0.75}},
     "y":{"field":"q1","type":"quantitative","title":"Accuracy (%)","scale":{"domain":[47.2,102.6],"zero":false,"nice":false}},"y2":{"field":"q3"},"color":{"field":"group","type":"nominal"}}},
   {"data":{"name":"accBox"},"transform":[{"filter":"datum.phase === 'Post'"}],"mark":{"type":"bar","filled":false,"strokeWidth":2.5},
    "encoding":{"xOffset":{"field":"group","type":"nominal","scale":{"domain":["s0","s1","s2","s3","s4","s5","Absent","Double","Spatial"],"paddingInner":0,"paddingOuter":-0.75}},
     "y":{"field":"median","type":"quantitative","title":"Accuracy (%)","scale":{"domain":[47.2,102.6],"zero":false,"nice":false}},"y2":{"field":"median"},"color":{"field":"group","type":"nominal"}}}
  ],
  "resolve":{"scale":{"xOffset":"independent"}}}
]},
{"spacing":10,"hconcat":[
 {"width":364,"height":227,
  "encoding":{"x":{"field":"cond","type":"nominal","title":null,"scale":{"domain":["Cong","Incong","Neut"],"paddingInner":0,"paddingOuter":0.1},"axis":{"labelExpr":"datum.label + '.'","labelAngle":0,"labelPadding":7,"grid":true,"bandPosition":0.5}}},
  "layer":[
   {"data":{"name":"obs"},"transform":[{"filter":"datum.phase === 'Pre'"}],"mark":{"type":"circle","size":16,"fillOpacity":0.4,"strokeOpacity":0.6,"strokeWidth":0.6},
    "encoding":{"xOffset":{"field":"id","type":"quantitative","scale":{"domain":[-95,116],"zero":false,"nice":false}},
     "y":{"field":"rt","type":"quantitative","title":"RT (ms)","scale":{"domain":[275,1203],"zero":false,"nice":false},"axis":{"values":[375,500,625,750,875,1000,1125],"tickCount":40,"format":"d","labelExpr":"datum.value % 250 === 0 ? datum.label : ''","gridWidth":{"condition":{"test":"datum.value % 250 !== 0","value":0.6},"value":1.2},"labelPadding":9,"titlePadding":7}},
     "color":{"field":"group","type":"nominal"},
     "stroke":{"field":"group","type":"nominal","legend":null}}},
   {"data":{"name":"rtBox"},"transform":[{"filter":"datum.phase === 'Pre'"}],"mark":{"type":"rule","strokeWidth":1.5},
    "encoding":{"xOffset":{"field":"group","type":"nominal","scale":{"domain":["s0","s1","s2","s3","s4","s5","Absent","Double","Spatial"],"paddingInner":0,"paddingOuter":-0.75}},
     "y":{"field":"lower","type":"quantitative","title":"RT (ms)","scale":{"domain":[275,1203],"zero":false,"nice":false}},"y2":{"field":"q1"},"color":{"field":"group","type":"nominal"}}},
   {"data":{"name":"rtBox"},"transform":[{"filter":"datum.phase === 'Pre'"}],"mark":{"type":"rule","strokeWidth":1.5},
    "encoding":{"xOffset":{"field":"group","type":"nominal","scale":{"domain":["s0","s1","s2","s3","s4","s5","Absent","Double","Spatial"],"paddingInner":0,"paddingOuter":-0.75}},
     "y":{"field":"q3","type":"quantitative","title":"RT (ms)","scale":{"domain":[275,1203],"zero":false,"nice":false}},"y2":{"field":"upper"},"color":{"field":"group","type":"nominal"}}},
   {"data":{"name":"rtBox"},"transform":[{"filter":"datum.phase === 'Pre'"}],"mark":{"type":"bar","fillOpacity":0.7},
    "encoding":{"xOffset":{"field":"group","type":"nominal","scale":{"domain":["s0","s1","s2","s3","s4","s5","Absent","Double","Spatial"],"paddingInner":0,"paddingOuter":-0.75}},
     "y":{"field":"q1","type":"quantitative","title":"RT (ms)","scale":{"domain":[275,1203],"zero":false,"nice":false}},"y2":{"field":"q3"},"color":{"field":"group","type":"nominal"}}},
   {"data":{"name":"rtBox"},"transform":[{"filter":"datum.phase === 'Pre'"}],"mark":{"type":"bar","filled":false,"strokeWidth":1.5},
    "encoding":{"xOffset":{"field":"group","type":"nominal","scale":{"domain":["s0","s1","s2","s3","s4","s5","Absent","Double","Spatial"],"paddingInner":0,"paddingOuter":-0.75}},
     "y":{"field":"q1","type":"quantitative","title":"RT (ms)","scale":{"domain":[275,1203],"zero":false,"nice":false}},"y2":{"field":"q3"},"color":{"field":"group","type":"nominal"}}},
   {"data":{"name":"rtBox"},"transform":[{"filter":"datum.phase === 'Pre'"}],"mark":{"type":"bar","filled":false,"strokeWidth":2.5},
    "encoding":{"xOffset":{"field":"group","type":"nominal","scale":{"domain":["s0","s1","s2","s3","s4","s5","Absent","Double","Spatial"],"paddingInner":0,"paddingOuter":-0.75}},
     "y":{"field":"median","type":"quantitative","title":"RT (ms)","scale":{"domain":[275,1203],"zero":false,"nice":false}},"y2":{"field":"median"},"color":{"field":"group","type":"nominal"}}}
  ],
  "resolve":{"scale":{"xOffset":"independent"}}},
 {"width":364,"height":227,
  "encoding":{"x":{"field":"cond","type":"nominal","title":null,"scale":{"domain":["Cong","Incong","Neut"],"paddingInner":0,"paddingOuter":0.1},"axis":{"labelExpr":"datum.label + '.'","labelAngle":0,"labelPadding":7,"grid":true,"bandPosition":0.5}}},
  "layer":[
   {"data":{"name":"obs"},"transform":[{"filter":"datum.phase === 'Post'"}],"mark":{"type":"circle","size":16,"fillOpacity":0.4,"strokeOpacity":0.6,"strokeWidth":0.6},
    "encoding":{"xOffset":{"field":"id","type":"quantitative","scale":{"domain":[-95,116],"zero":false,"nice":false}},
     "y":{"field":"rt","type":"quantitative","title":"RT (ms)","scale":{"domain":[275,1203],"zero":false,"nice":false},"axis":{"values":[375,500,625,750,875,1000,1125],"tickCount":40,"labels":false,"title":null,"gridWidth":{"condition":{"test":"datum.value % 250 !== 0","value":0.6},"value":1.2}}},
     "color":{"field":"group","type":"nominal"},
     "stroke":{"field":"group","type":"nominal","legend":null}}},
   {"data":{"name":"rtBox"},"transform":[{"filter":"datum.phase === 'Post'"}],"mark":{"type":"rule","strokeWidth":1.5},
    "encoding":{"xOffset":{"field":"group","type":"nominal","scale":{"domain":["s0","s1","s2","s3","s4","s5","Absent","Double","Spatial"],"paddingInner":0,"paddingOuter":-0.75}},
     "y":{"field":"lower","type":"quantitative","title":"RT (ms)","scale":{"domain":[275,1203],"zero":false,"nice":false}},"y2":{"field":"q1"},"color":{"field":"group","type":"nominal"}}},
   {"data":{"name":"rtBox"},"transform":[{"filter":"datum.phase === 'Post'"}],"mark":{"type":"rule","strokeWidth":1.5},
    "encoding":{"xOffset":{"field":"group","type":"nominal","scale":{"domain":["s0","s1","s2","s3","s4","s5","Absent","Double","Spatial"],"paddingInner":0,"paddingOuter":-0.75}},
     "y":{"field":"q3","type":"quantitative","title":"RT (ms)","scale":{"domain":[275,1203],"zero":false,"nice":false}},"y2":{"field":"upper"},"color":{"field":"group","type":"nominal"}}},
   {"data":{"name":"rtBox"},"transform":[{"filter":"datum.phase === 'Post'"}],"mark":{"type":"bar","fillOpacity":0.7},
    "encoding":{"xOffset":{"field":"group","type":"nominal","scale":{"domain":["s0","s1","s2","s3","s4","s5","Absent","Double","Spatial"],"paddingInner":0,"paddingOuter":-0.75}},
     "y":{"field":"q1","type":"quantitative","title":"RT (ms)","scale":{"domain":[275,1203],"zero":false,"nice":false}},"y2":{"field":"q3"},"color":{"field":"group","type":"nominal"}}},
   {"data":{"name":"rtBox"},"transform":[{"filter":"datum.phase === 'Post'"}],"mark":{"type":"bar","filled":false,"strokeWidth":1.5},
    "encoding":{"xOffset":{"field":"group","type":"nominal","scale":{"domain":["s0","s1","s2","s3","s4","s5","Absent","Double","Spatial"],"paddingInner":0,"paddingOuter":-0.75}},
     "y":{"field":"q1","type":"quantitative","title":"RT (ms)","scale":{"domain":[275,1203],"zero":false,"nice":false}},"y2":{"field":"q3"},"color":{"field":"group","type":"nominal"}}},
   {"data":{"name":"rtBox"},"transform":[{"filter":"datum.phase === 'Post'"}],"mark":{"type":"bar","filled":false,"strokeWidth":2.5},
    "encoding":{"xOffset":{"field":"group","type":"nominal","scale":{"domain":["s0","s1","s2","s3","s4","s5","Absent","Double","Spatial"],"paddingInner":0,"paddingOuter":-0.75}},
     "y":{"field":"median","type":"quantitative","title":"RT (ms)","scale":{"domain":[275,1203],"zero":false,"nice":false}},"y2":{"field":"median"},"color":{"field":"group","type":"nominal"}}}
  ],
  "resolve":{"scale":{"xOffset":"independent"}}}
]}
]
}
